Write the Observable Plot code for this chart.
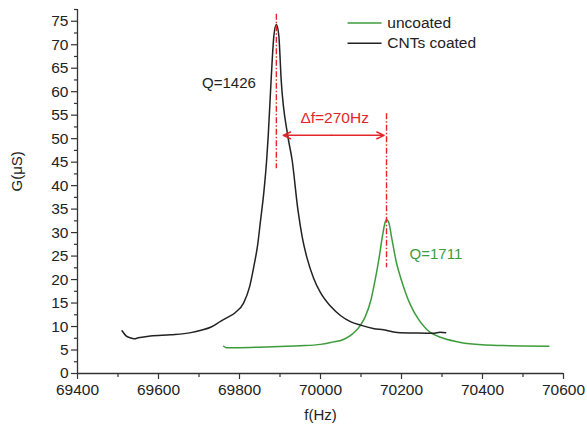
<!DOCTYPE html>
<html>
<head>
<meta charset="utf-8">
<script src="https://cdn.jsdelivr.net/npm/d3@7"></script>
<script src="https://cdn.jsdelivr.net/npm/@observablehq/plot@0.6"></script>
<style>
  html, body { margin: 0; padding: 0; background: #fff; }
  #chart svg { display: block; }
</style>
</head>
<body>
<div id="chart"></div>
<script>
// ---- Data ----
const seriesNames = ["uncoated", "CNTs coated"];

// CNTs coated (black)
const fCNT = [69510, 69520, 69530, 69540, 69550, 69580, 69630, 69680, 69705, 69730,
              69753, 69765, 69790, 69810, 69825, 69835, 69845, 69852, 69860, 69867,
              69871, 69878, 69885, 69891, 69897, 69903, 69919, 69930, 69944,
              69955, 69967, 69983, 70000, 70025, 70050, 70075, 70099, 70130,
              70156, 70189, 70240, 70279, 70295, 70309];
const gCNT = [9.1, 8.0, 7.6, 7.4, 7.6, 8.0, 8.25, 8.7, 9.2, 9.9,
              11.1, 11.7, 13.0, 15.0, 18.5, 22.6, 27.5, 32.6, 38.5, 45.4,
              50.7, 62.4, 72.0, 74.3, 72.0, 62.4, 50.7, 45.4, 35,
              29.0, 24.5, 20.3, 17.2, 14.3, 12.3, 11.0, 10.3, 9.6,
              9.3, 8.75, 8.6, 8.55, 8.8, 8.7];

// uncoated (green)
const fUn = [69761, 69768, 69800, 69850, 69900, 69950, 70000, 70025, 70058, 70080,
             70099, 70110, 70125, 70134, 70145, 70153, 70160, 70163, 70168, 70177,
             70187, 70200, 70210, 70222, 70240, 70260, 70272, 70300, 70346, 70400,
             70450, 70500, 70564];
const gUn = [5.8, 5.5, 5.5, 5.6, 5.75, 5.9, 6.2, 6.6, 7.3, 8.5,
             10.3, 12.0, 15.8, 19.5, 24.8, 29.3, 32.3, 32.8, 32.3, 28.3,
             23.8, 19.8, 17.2, 14.6, 11.8, 9.6, 8.7, 7.6, 6.6, 6.1,
             5.95, 5.85, 5.8];

const xTicks = [69400, 69600, 69800, 70000, 70200, 70400, 70600];
const yTicks = [0, 5, 10, 15, 20, 25, 30, 35, 40, 45, 50, 55, 60, 65, 70, 75];
const xMinor = [69500, 69700, 69900, 70100, 70300, 70500];
const yMinor = [2.5, 7.5, 12.5, 17.5, 22.5, 27.5, 32.5, 37.5, 42.5, 47.5, 52.5, 57.5, 62.5, 67.5, 72.5, 77.5];

const xLabel = "f(Hz)";
const yLabel = "G(μS)";
const qLabels = ["Q=1426", "Q=1711"];
const deltaLabel = "Δf=270Hz";

// ---- Build tables ----
const cnt = fCNT.map((f, i) => ({f, g: gCNT[i]}));
const unc = fUn.map((f, i) => ({f, g: gUn[i]}));
const peakC = d3.greatest(cnt, d => d.g);
const peakU = d3.greatest(unc, d => d.g);

const BLACK = "#222222";
const GREEN = "#3c9c3c";
const RED = "#e3262a";
const FONT = "'Liberation Sans', Arial, Helvetica, sans-serif";

const legend = [
  {name: seriesNames[0], color: GREEN, g: 74.6},
  {name: seriesNames[1], color: BLACK, g: 70.3}
];

const chart = Plot.plot({
  width: 587,
  height: 426,
  marginLeft: 77,
  marginRight: 24,
  marginTop: 9,
  marginBottom: 53,
  x: {domain: [69400, 70600]},
  y: {domain: [0, 77.5]},
  style: {fontFamily: FONT, fontSize: "15.5px", color: "#222", background: "#fff"},
  marks: [
    // axes
    Plot.axisY({ticks: yTicks, tickSize: 6, tickPadding: 3, label: null, stroke: "#333", strokeWidth: 1.2}),
    Plot.axisY({ticks: yMinor, tickSize: 3, tickFormat: () => "", label: null, stroke: "#333", strokeWidth: 1.2}),
    Plot.axisX({ticks: xTicks, tickSize: 6, tickPadding: 4, label: null, tickFormat: d => String(d), stroke: "#333", strokeWidth: 1.2}),
    Plot.axisX({ticks: xMinor, tickSize: 4, tickFormat: () => "", label: null, stroke: "#333", strokeWidth: 1.2}),
    Plot.ruleX([69400], {stroke: "#333", strokeWidth: 1.3}),
    Plot.ruleY([0], {stroke: "#333", strokeWidth: 1.3}),
    Plot.text([yLabel], {frameAnchor: "left", dx: -60, rotate: -90, text: d => d, fontSize: 15, fill: "#222"}),
    Plot.text([xLabel], {frameAnchor: "bottom", dy: 46, text: d => d, fontSize: 15, fill: "#222"}),

    // data
    Plot.line(unc, {x: "f", y: "g", stroke: GREEN, strokeWidth: 1.5, curve: "monotone-x"}),
    Plot.line(cnt, {x: "f", y: "g", stroke: BLACK, strokeWidth: 1.5, curve: "monotone-x"}),

    // peak markers (dash-dot)
    Plot.ruleX([peakC], {x: "f", y1: 76.5, y2: 43.6, stroke: RED, strokeWidth: 1.4, strokeDasharray: "6,2,1.5,2"}),
    Plot.ruleX([peakU], {x: "f", y1: 55.3, y2: 22.5, stroke: RED, strokeWidth: 1.4, strokeDasharray: "6,2,1.5,2"}),

    // double arrow
    Plot.arrow([
      {x1: (peakC.f + peakU.f) / 2, x2: peakC.f + 17},
      {x1: (peakC.f + peakU.f) / 2, x2: peakU.f - 6}
    ], {x1: "x1", x2: "x2", y1: 50.7, y2: 50.7, stroke: RED, strokeWidth: 1.5, headLength: 8, headAngle: 50}),
    Plot.text([deltaLabel], {x: 70035, y: 54.3, text: d => d, fill: RED, fontSize: 15.5}),

    // Q labels
    Plot.text([qLabels[0]], {x: 69774, y: 61.8, text: d => d, fill: BLACK, fontSize: 15}),
    Plot.text([qLabels[1]], {x: 70285, y: 25.5, text: d => d, fill: GREEN, fontSize: 15}),

    // legend
    Plot.ruleY(legend, {y: "g", x1: 70068, x2: 70152, stroke: "color", strokeWidth: 1.5}),
    Plot.text(legend, {y: "g", x: 70165, text: "name", textAnchor: "start", fill: "#222", fontSize: 15.5})
  ]
});

document.getElementById("chart").appendChild(chart);
</script>
</body>
</html>
